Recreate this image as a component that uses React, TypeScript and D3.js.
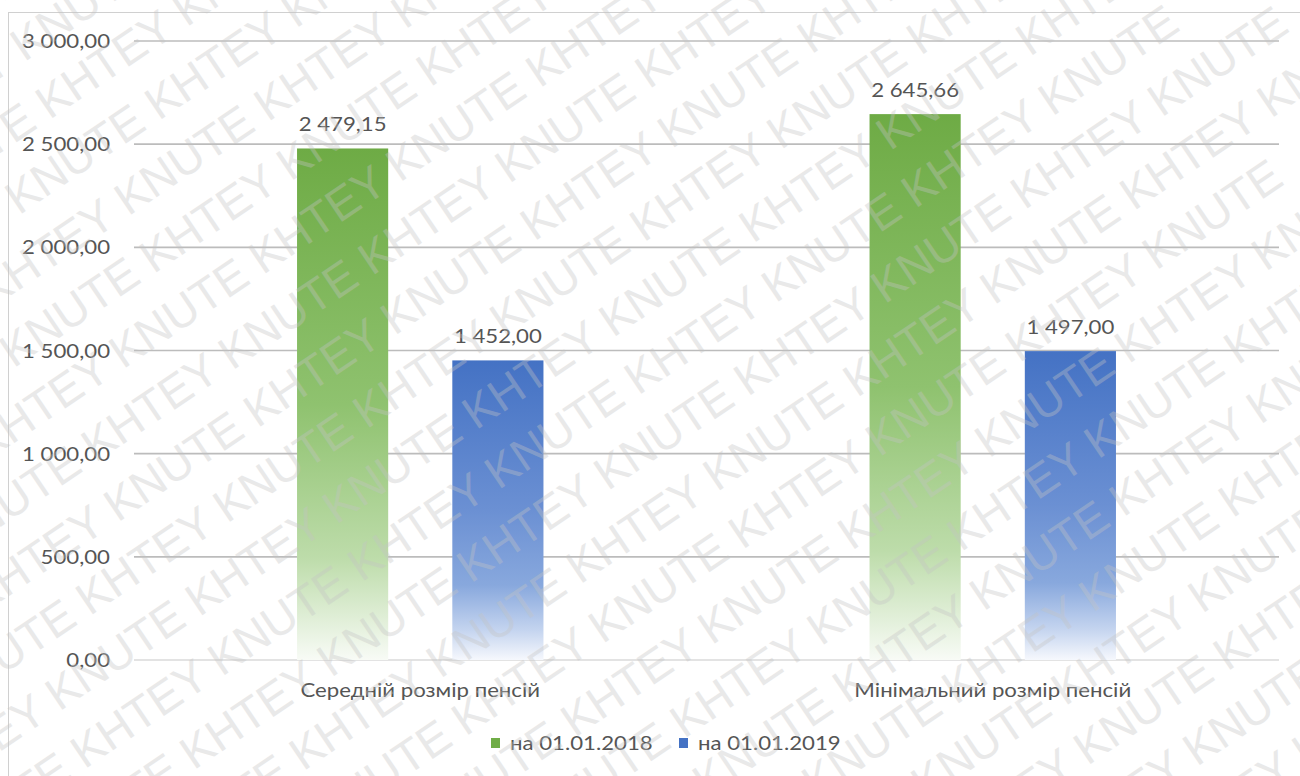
import React from "react";
import * as d3 from "d3";

const categories = ["Середній розмір пенсій", "Мінімальний розмір пенсій"];
const seriesNames = ["на 01.01.2018", "на 01.01.2019"];
const values2018 = [2479.15, 2645.66];
const values2019 = [1452.0, 1497.0];
const yTicks = [0, 500, 1000, 1500, 2000, 2500, 3000];

const W = 1300;
const H = 776;
const FONT = "Lato, 'Open Sans', sans-serif";
const TEXT = "#555555";
const SX = 1.2;

const fmt = (v: number) => {
  const [i, d] = v.toFixed(2).split(".");
  const ip = i.replace(/\B(?=(\d{3})+(?!\d))/g, "\u00a0");
  return ip + "," + d;
};

function SText({ x, y, anchor, size, children }: any) {
  return (
    <g transform={`translate(${x},${y}) scale(${SX},1)`}>
      <text textAnchor={anchor} fontSize={size} fontFamily={FONT} fill={TEXT}>
        {children}
      </text>
    </g>
  );
}

export default function App() {
  const x0 = d3.scaleBand<string>().domain(categories).range([134, 1279]).paddingInner(0).paddingOuter(0);
  const x1 = d3.scaleBand<string>().domain(seriesNames).range([0, x0.bandwidth()]).paddingInner(0.413).paddingOuter(1.05);
  const y = d3.scaleLinear().domain([0, 3000]).range([660, 41]);

  const data = [values2018, values2019];
  const grads = ["gGreen", "gBlue"];
  const legendColors = ["#70ad47", "#4472c4"];

  const wmRows = d3.range(-12, 13);
  const wmText = "KHTEY KNUTE KHTEY KNUTE KHTEY KNUTE KHTEY KNUTE KHTEY KNUTE KHTEY KNUTE";

  return (
    <svg width={W} height={H} style={{ position: "absolute", left: 0, top: 0, background: "#fff" }}>
      <defs>
        <linearGradient id="gGreen" x1="0" y1="0" x2="0" y2="1">
          <stop offset="0" stopColor="#6eab45" />
          <stop offset="0.5" stopColor="#8fc26f" />
          <stop offset="0.8" stopColor="#bddcaa" />
          <stop offset="1" stopColor="#f8fbf6" />
        </linearGradient>
        <linearGradient id="gBlue" x1="0" y1="0" x2="0" y2="1">
          <stop offset="0" stopColor="#4472c4" />
          <stop offset="0.5" stopColor="#6b90d3" />
          <stop offset="0.75" stopColor="#88a8dd" />
          <stop offset="0.9" stopColor="#c4d4ef" />
          <stop offset="1" stopColor="#f6f8fd" />
        </linearGradient>
        <clipPath id="wmClip">
          <rect x={0} y={0} width={W} height={H} />
        </clipPath>
      </defs>
      <rect x={0} y={0} width={W} height={H} fill="#fff" />
      <rect x={8.5} y={12.5} width={1400} height={900} fill="#fff" stroke="#d0d0d0" />

      {yTicks.map((t) => (
        <g key={t}>
          <line x1={134} x2={1279} y1={y(t)} y2={y(t)} stroke={t === 0 ? "#c8c8c8" : "#bcbcbc"} strokeWidth={t === 0 ? 1.2 : 1.6} />
          <SText x={110} y={y(t) + 7} anchor="end" size={18.5}>
            {fmt(t)}
          </SText>
        </g>
      ))}

      {categories.map((c, ci) => (
        <g key={c}>
          {seriesNames.map((s, si) => {
            const v = data[si][ci];
            const bx = (x0(c) as number) + (x1(s) as number);
            return (
              <g key={s}>
                <rect x={bx} y={y(v)} width={x1.bandwidth()} height={y(0) - y(v)} fill={`url(#${grads[si]})`} />
                <SText x={bx + x1.bandwidth() / 2} y={y(v) - 17} anchor="middle" size={18.5}>
                  {fmt(v)}
                </SText>
              </g>
            );
          })}
          <SText x={(x0(c) as number) + x0.bandwidth() / 2} y={697} anchor="middle" size={18.5}>
            {c}
          </SText>
        </g>
      ))}

      {seriesNames.map((s, i) => {
        const lx = [491, 679][i];
        return (
          <g key={s}>
            <rect x={lx} y={738} width={9} height={10} fill={legendColors[i]} />
            <SText x={lx + 19} y={750} anchor="start" size={18.5}>
              {s}
            </SText>
          </g>
        );
      })}

      <g clipPath="url(#wmClip)" pointerEvents="none">
        <g transform="rotate(-34 650 388)" opacity={0.36}>
          {wmRows.map((r) => (
            <text
              key={r}
              x={-700 + (((r % 3) + 3) % 3) * 90}
              y={388 + r * 62}
              fontSize={46}
              fontFamily="'Liberation Sans', Arial, sans-serif"
              fill="#c4c4c4"
            >
              {wmText}
            </text>
          ))}
        </g>
      </g>
    </svg>
  );
}
